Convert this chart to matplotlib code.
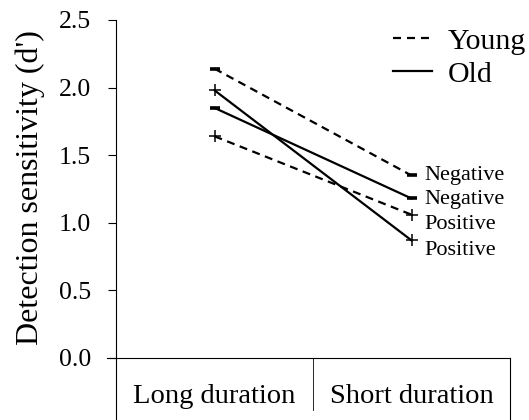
import matplotlib
matplotlib.use("Agg")
import matplotlib.pyplot as plt
from matplotlib.lines import Line2D

plt.rcParams['font.family'] = ['Liberation Serif', 'DejaVu Serif']

categories = ["Long duration", "Short duration"]
young_negative = [2.14, 1.35]
young_positive = [1.64, 1.06]
old_negative = [1.85, 1.18]
old_positive = [1.98, 0.87]
yticks = [0.0, 0.5, 1.0, 1.5, 2.0, 2.5]

fig = plt.figure(figsize=(5.29, 4.2), dpi=100)
W, H = 529, 420
ax = fig.add_axes([116 / W, (420 - 358) / H, (510 - 116) / W, (358 - 20) / H])

xs = [0.5, 1.5]
dash = (0, (3.6, 2.5))
lw = 1.6
series = [
    (young_negative, dash, "_", "Negative"),
    (old_negative, "-", "_", "Negative"),
    (young_positive, dash, "+", "Positive"),
    (old_positive, "-", "+", "Positive"),
]
for vals, ls, mk, lab in series:
    ms = 7 if mk == "_" else 8
    mew = 2.6 if mk == "_" else 1.1
    ax.plot(xs, vals, color="black", linestyle=ls, linewidth=lw,
            marker=mk, markersize=ms, markeredgewidth=mew, clip_on=False)

# labels at the right end
label_offsets = {0: 0, 1: -1, 2: -7, 3: -7}
for i, (vals, ls, mk, lab) in enumerate(series):
    ax.annotate(lab, xy=(xs[1], vals[1]), xytext=(9, label_offsets[i]),
                textcoords="offset points", fontsize=16, va="center",
                ha="left", annotation_clip=False)

ax.set_xlim(0, 2)
ax.set_ylim(0, 2.5)
ax.set_yticks(yticks)
ax.set_yticklabels([f"{t:.1f}" for t in yticks])
ax.set_xticks([])
ax.tick_params(axis="y", direction="out", length=6, width=0.8, pad=12,
               labelsize=18.5)
for s in ["top", "right"]:
    ax.spines[s].set_visible(False)
ax.spines["left"].set_linewidth(0.8)
ax.spines["bottom"].set_linewidth(0.8)
ax.spines["bottom"].set_bounds(0, 2)

# category table lines below the axis
tr = ax.get_xaxis_transform()
ax.plot([0, 0], [0, -0.19], color="black", lw=0.8, transform=tr, clip_on=False)
ax.plot([2, 2], [0, -0.19], color="black", lw=0.8, transform=tr, clip_on=False)
ax.plot([1, 1], [0, -0.155], color="black", lw=0.6, transform=tr, clip_on=False)
ax.plot([-0.045, 0], [0, 0], color="black", lw=0.8, transform=tr, clip_on=False)
for x, c in zip(xs, categories):
    ax.text(x, -0.115, c, transform=tr, ha="center", va="center", fontsize=20.5)

ax.set_ylabel("Detection sensitivity (d')", fontsize=23)
ax.yaxis.set_label_coords(45 / W, (420 - 188) / H, transform=fig.transFigure)

handles = [Line2D([], [], color="black", linestyle=(0, (3.6, 2.7)), lw=1.6),
           Line2D([], [], color="black", linestyle="-", lw=1.6)]
fig.legend(handles, ["Young", "Old"], loc="upper left",
           bbox_to_anchor=(393 / W, 1.0 - 28 / H), frameon=False, fontsize=21.5,
           handlelength=1.3, handletextpad=0.53, labelspacing=0.2,
           borderaxespad=0, borderpad=0)

fig.savefig("out.png", dpi=100)
